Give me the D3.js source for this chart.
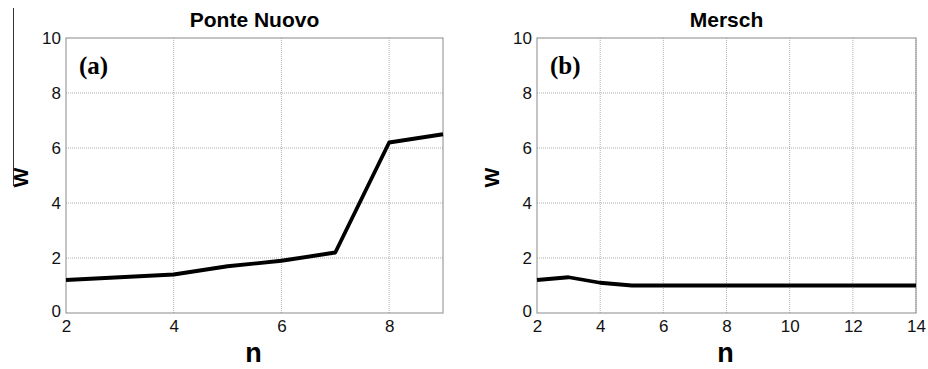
<!DOCTYPE html>
<html>
<head>
<meta charset="utf-8">
<script src="https://cdn.jsdelivr.net/npm/d3@7"></script>
<style>
  body { margin: 0; background: #fff; }
  svg { display: block; }
</style>
</head>
<body>
<svg id="chart" width="928" height="369"></svg>
<script>
// 数据
const nPonte = [2, 3, 4, 5, 6, 7, 8, 9];
const wPonte = [1.2, 1.3, 1.4, 1.7, 1.9, 2.2, 6.2, 6.5];
const nMersch = [2, 3, 4, 5, 6, 7, 8, 9, 10, 11, 12, 13, 14];
const wMersch = [1.2, 1.3, 1.1, 1.0, 1.0, 1.0, 1.0, 1.0, 1.0, 1.0, 1.0, 1.0, 1.0];
const yTicks = [0, 2, 4, 6, 8, 10];
const xTicksPonte = [2, 4, 6, 8];
const xTicksMersch = [2, 4, 6, 8, 10, 12, 14];

const svg = d3.select("#chart");
const sans = "Liberation Sans, Arial, sans-serif";

// 左边的细竖线（原图中的残留线）
svg.append("line")
    .attr("x1", 13.5).attr("x2", 13.5)
    .attr("y1", 8).attr("y2", 186)
    .attr("stroke", "#333").attr("stroke-width", 1);

function drawPanel(opt) {
    const x = d3.scaleLinear().domain(opt.xDomain).range([opt.left, opt.right]);
    const y = d3.scaleLinear().domain([0, 10]).range([opt.bottom, opt.top]);
    const g = svg.append("g");

    // 网格线（点线）
    g.selectAll(".gx").data(opt.xTicks.slice(1)).enter().append("line")
        .attr("x1", d => x(d)).attr("x2", d => x(d))
        .attr("y1", opt.top).attr("y2", opt.bottom)
        .attr("stroke", "#9a9a9a").attr("stroke-width", 0.8)
        .attr("stroke-dasharray", "1,1");
    g.selectAll(".gy").data(yTicks.slice(1, -1)).enter().append("line")
        .attr("x1", opt.left).attr("x2", opt.right)
        .attr("y1", d => y(d)).attr("y2", d => y(d))
        .attr("stroke", "#9a9a9a").attr("stroke-width", 0.8)
        .attr("stroke-dasharray", "1,1");

    // 边框
    g.append("rect")
        .attr("x", opt.left).attr("y", opt.top)
        .attr("width", opt.right - opt.left).attr("height", opt.bottom - opt.top)
        .attr("fill", "none").attr("stroke", "#8a8a8a").attr("stroke-width", 1);

    // 坐标轴刻度
    const xAxis = d3.axisBottom(x).tickValues(opt.xTicks).tickFormat(d3.format("d"))
        .tickSize(0).tickPadding(7);
    const yAxis = d3.axisLeft(y).tickValues(yTicks).tickFormat(d3.format("d"))
        .tickSize(0).tickPadding(5);
    g.append("g").attr("transform", `translate(0,${opt.bottom})`).call(xAxis)
        .call(a => a.select(".domain").remove())
        .selectAll("text")
        .attr("font-family", sans)
        .attr("font-size", 17).attr("fill", "#111");
    g.append("g").attr("transform", `translate(${opt.left},0)`).call(yAxis)
        .call(a => a.select(".domain").remove())
        .selectAll("text")
        .attr("font-family", sans)
        .attr("font-size", 17).attr("fill", "#111")
        .attr("dy", d => d === 0 ? "0.22em" : "0.34em");

    // 数据线
    const line = d3.line().x(d => x(d[0])).y(d => y(d[1]));
    g.append("path")
        .datum(opt.xs.map((v, i) => [v, opt.ys[i]]))
        .attr("d", line)
        .attr("fill", "none").attr("stroke", "#000")
        .attr("stroke-width", 3.8).attr("stroke-linejoin", "round");

    // 标题和轴标签
    const cx = (opt.left + opt.right) / 2;
    g.append("text").attr("x", cx).attr("y", 26.5)
        .attr("text-anchor", "middle")
        .attr("font-family", sans)
        .attr("font-weight", "bold").attr("font-size", 21)
        .text(opt.title);
    g.append("text").attr("x", cx - 1).attr("y", 362)
        .attr("text-anchor", "middle")
        .attr("font-family", sans)
        .attr("font-weight", "bold").attr("font-size", 27)
        .text("n");
    g.append("text")
        .attr("transform", `translate(${opt.wX},${(opt.top + opt.bottom) / 2 + 2}) rotate(-90)`)
        .attr("text-anchor", "middle")
        .attr("font-family", sans)
        .attr("font-weight", "bold").attr("font-size", 21)
        .text("W");
    g.append("text").attr("x", opt.left + 13).attr("y", 74)
        .attr("font-family", "Liberation Serif, Times New Roman, serif")
        .attr("font-weight", "bold").attr("font-size", 25)
        .text(opt.tag);
}

drawPanel({
    title: "Ponte Nuovo", tag: "(a)",
    xs: nPonte, ys: wPonte, xDomain: [2, 9], xTicks: xTicksPonte,
    left: 66, right: 443, top: 38, bottom: 313, wX: 28
});
drawPanel({
    title: "Mersch", tag: "(b)",
    xs: nMersch, ys: wMersch, xDomain: [2, 14], xTicks: xTicksMersch,
    left: 537, right: 916, top: 38, bottom: 313, wX: 499
});
</script>
</body>
</html>
